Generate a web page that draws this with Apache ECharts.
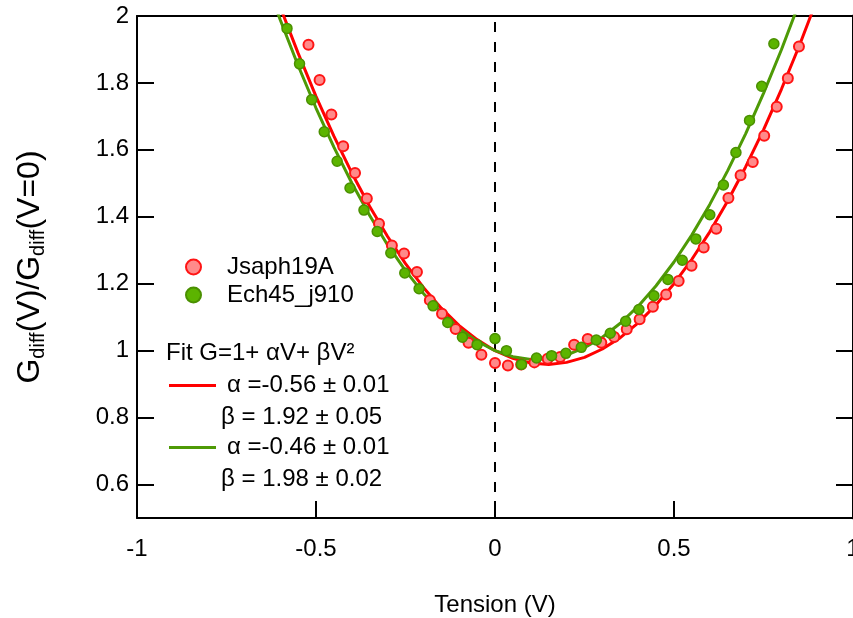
<!DOCTYPE html>
<html><head><meta charset="utf-8">
<script src="https://cdn.jsdelivr.net/npm/echarts@6/dist/echarts.min.js"></script>
<style>html,body{margin:0;padding:0;background:#fff}#c{width:853px;height:618px}</style>
</head><body><div id="c"></div>
<script>
// Jsaph19A measured points
const jsaphV = [-0.521,-0.490,-0.457,-0.424,-0.391,-0.358,-0.324,-0.288,-0.254,-0.218,-0.182,-0.148,-0.110,-0.074,-0.038,0.000,0.036,0.073,0.110,0.147,0.182,0.221,0.259,0.297,0.333,0.368,0.404,0.441,0.478,0.513,0.549,0.583,0.618,0.652,0.686,0.720,0.752,0.787,0.818,0.849];
const jsaphG = [1.914,1.809,1.706,1.611,1.531,1.455,1.379,1.314,1.290,1.235,1.151,1.110,1.065,1.024,0.988,0.963,0.956,0.959,0.965,0.976,0.981,1.018,1.035,1.024,1.041,1.064,1.094,1.131,1.168,1.208,1.254,1.308,1.364,1.456,1.524,1.564,1.642,1.729,1.814,1.909];
// Ech45_j910 measured points
const echV = [-0.581,-0.546,-0.512,-0.477,-0.441,-0.405,-0.366,-0.329,-0.291,-0.252,-0.212,-0.173,-0.132,-0.091,-0.050,0.000,0.032,0.074,0.116,0.158,0.198,0.241,0.283,0.322,0.365,0.402,0.444,0.483,0.523,0.561,0.600,0.638,0.673,0.711,0.745,0.779];
const echG = [1.963,1.857,1.750,1.654,1.566,1.486,1.420,1.356,1.292,1.232,1.185,1.134,1.084,1.040,1.018,1.036,1.000,0.959,0.978,0.985,0.992,1.010,1.032,1.052,1.088,1.123,1.164,1.213,1.270,1.334,1.406,1.495,1.592,1.688,1.790,1.917];
// Fit curves
const fitV = [-0.65,-0.60,-0.55,-0.50,-0.45,-0.40,-0.35,-0.30,-0.25,-0.20,-0.15,-0.10,-0.05,0.00,0.05,0.10,0.15,0.20,0.25,0.30,0.35,0.40,0.45,0.50,0.55,0.60,0.65,0.70,0.75,0.80,0.85,0.90];
const fitRed = [2.175,2.027,1.889,1.760,1.641,1.531,1.431,1.341,1.260,1.189,1.127,1.075,1.033,1.000,0.977,0.963,0.959,0.965,0.980,1.005,1.039,1.083,1.137,1.200,1.273,1.355,1.447,1.549,1.660,1.781,1.911,2.051];
const fitGreen = [2.136,1.989,1.852,1.725,1.608,1.501,1.404,1.316,1.239,1.171,1.114,1.066,1.028,1.000,0.982,0.974,0.976,0.987,1.009,1.040,1.082,1.133,1.194,1.265,1.346,1.437,1.538,1.648,1.769,1.899,2.040,2.190];
const yTicks = [0.6,0.8,1,1.2,1.4,1.6,1.8,2];
const seriesNames = ['Jsaph19A','Ech45_j910'];
const fitTitle = 'Fit G=1+ \u03B1V+ \u03B2V\u00B2';
const fitLabels = ['\u03B1 =-0.56 \u00B1 0.01','\u03B2 = 1.92 \u00B1 0.05','\u03B1 =-0.46 \u00B1 0.01','\u03B2 = 1.98 \u00B1 0.02'];

const FONT = '"Liberation Sans", Arial, Helvetica, sans-serif';
const zip = (a,b) => a.map((v,i)=>[v,b[i]]);
const chart = echarts.init(document.getElementById('c'), null, {renderer:'canvas'});
const axisLine = {show:true, onZero:false, lineStyle:{color:'#000', width:2}};
const tick = {show:true, inside:true, length:17, lineStyle:{color:'#000', width:2}};
chart.setOption({
  animation:false,
  backgroundColor:'#fff',
  grid:{left:137, top:16, width:716, height:502, containLabel:false, outerBoundsMode:'none'},
  xAxis:[
    {type:'value', min:-1, max:1, interval:0.5, position:'bottom',
     axisLine:axisLine, axisTick:tick, splitLine:{show:false},
     axisLabel:{fontSize:24, color:'#000', fontFamily:FONT, margin:19},
     name:'Tension (V)', nameLocation:'middle', nameGap:75,
     nameTextStyle:{fontSize:24, color:'#000', fontFamily:FONT}},
    {type:'value', min:-1, max:1, interval:0.5, position:'top',
     axisLine:axisLine, axisTick:{show:false}, axisLabel:{show:false}, splitLine:{show:false}}
  ],
  yAxis:[
    {type:'value', min:0.5, max:2, position:'left',
     axisLine:axisLine, axisTick:Object.assign({customValues:yTicks}, tick), splitLine:{show:false},
     axisLabel:{customValues:yTicks, fontSize:24, color:'#000', fontFamily:FONT, margin:8},
     name:'{n|G}{s|diff}{n|(V)/G}{s|diff}{n|(V=0)}', nameLocation:'middle', nameGap:89,
     nameTextStyle:{color:'#000', fontFamily:FONT, fontSize:32,
       rich:{n:{fontSize:32, lineHeight:36, fontFamily:FONT, color:'#000'},
             s:{fontSize:20, lineHeight:20, verticalAlign:'bottom', fontFamily:FONT, color:'#000'}}}},
    {type:'value', min:0.5, max:2, position:'right',
     axisLine:{show:true, onZero:false, lineStyle:{color:'#000', width:3}}, axisTick:Object.assign({customValues:yTicks}, tick),
     axisLabel:{show:false}, splitLine:{show:false}}
  ],
  legend:{orient:'vertical', left:185, top:255, padding:0, itemGap:4,
    itemWidth:15, itemHeight:15, icon:'circle', data:seriesNames,
    textStyle:{fontSize:24, color:'#000', fontFamily:FONT, padding:[0,0,0,21]}},
  series:[
    {name:'fitRed', type:'line', data:zip(fitV, fitRed), showSymbol:false, clip:true,
     lineStyle:{color:'#ff0000', width:3}, z:2,
     markLine:{silent:true, symbol:['none','none'], label:{show:false}, z:1,
       lineStyle:{color:'#000', width:2, type:[10,10], dashOffset:-6}, data:[{xAxis:0}]}},
    {name:'fitGreen', type:'line', data:zip(fitV, fitGreen), showSymbol:false, clip:true,
     lineStyle:{color:'#4e9a06', width:3}, z:2},
    {name:seriesNames[0], type:'scatter', data:zip(jsaphV, jsaphG), symbol:'circle', symbolSize:10,
     itemStyle:{color:'#ff8a8a', borderColor:'#ff1414', borderWidth:2, opacity:1}, z:3},
    {name:seriesNames[1], type:'scatter', data:zip(echV, echG), symbol:'circle', symbolSize:10,
     itemStyle:{color:'#5cb400', borderColor:'#4a9000', borderWidth:1.5, opacity:1}, z:4}
  ],
  graphic:[
    {type:'text', x:166, y:353, style:{text:fitTitle, fontSize:24, fontFamily:FONT, fill:'#000', verticalAlign:'middle'}},
    {type:'line', shape:{x1:169, y1:385.5, x2:216, y2:385.5}, style:{stroke:'#ff0000', lineWidth:3}},
    {type:'text', x:227, y:385.5, style:{text:fitLabels[0], fontSize:24, fontFamily:FONT, fill:'#000', verticalAlign:'middle'}},
    {type:'text', x:221, y:417, style:{text:fitLabels[1], fontSize:24, fontFamily:FONT, fill:'#000', verticalAlign:'middle'}},
    {type:'line', shape:{x1:169, y1:447.5, x2:216, y2:447.5}, style:{stroke:'#4e9a06', lineWidth:3}},
    {type:'text', x:227, y:447.5, style:{text:fitLabels[2], fontSize:24, fontFamily:FONT, fill:'#000', verticalAlign:'middle'}},
    {type:'text', x:221, y:479, style:{text:fitLabels[3], fontSize:24, fontFamily:FONT, fill:'#000', verticalAlign:'middle'}}
  ]
});
</script></body></html>
